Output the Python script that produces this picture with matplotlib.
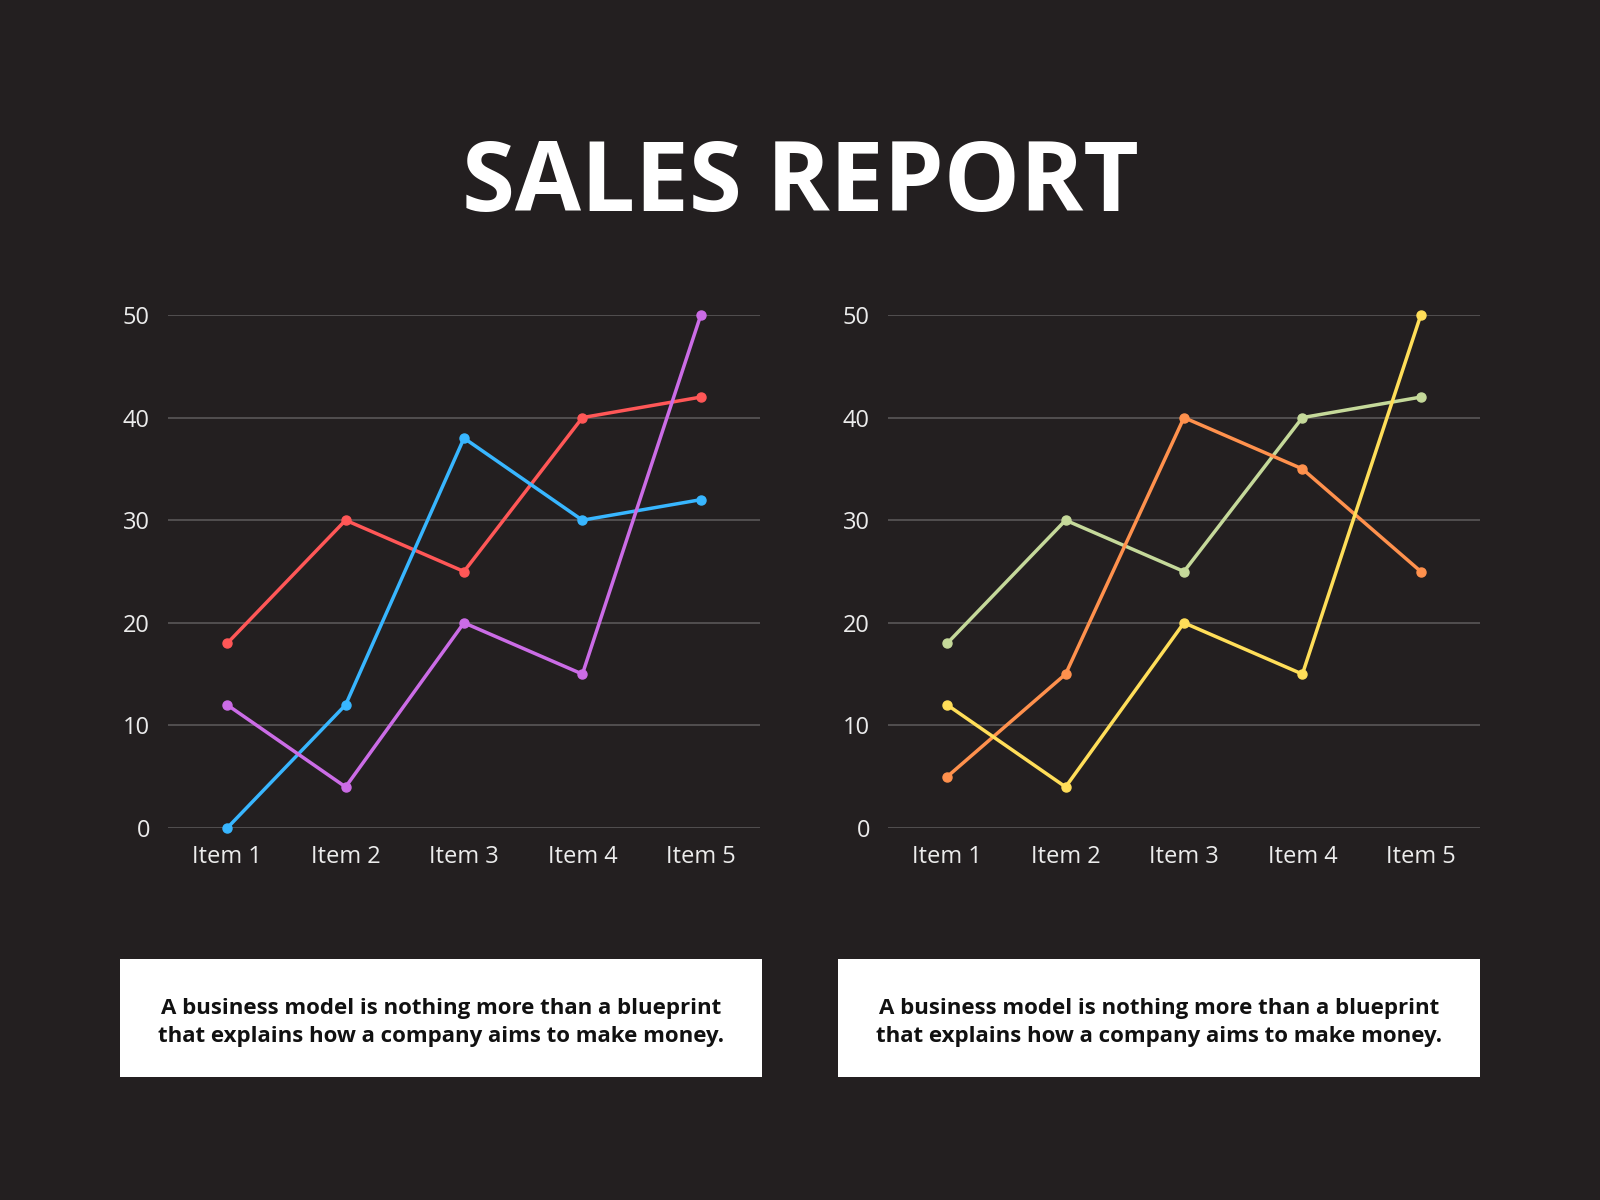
import matplotlib.pyplot as plt
from matplotlib.patches import Rectangle

# chart data
items = ["Item 1", "Item 2", "Item 3", "Item 4", "Item 5"]
y_ticks = [0, 10, 20, 30, 40, 50]

left_red = [18, 30, 25, 40, 42]
left_blue = [0, 12, 38, 30, 32]
left_purple = [12, 4, 20, 15, 50]

right_green = [18, 30, 25, 40, 42]
right_orange = [5, 15, 40, 35, 25]
right_yellow = [12, 4, 20, 15, 50]

caption = ("A business model is nothing more than a blueprint\n"
           "that explains how a company aims to make money.")

BG = "#231f20"
GRID = "#5a5758"
TICK = "#ececec"

plt.rcParams["font.family"] = ["Open Sans", "DejaVu Sans"]

fig = plt.figure(figsize=(16, 12), dpi=100, facecolor=BG)


def draw_panel(rect, series):
    ax = fig.add_axes(rect)
    ax.set_facecolor(BG)
    x = range(len(items))
    for values, color in series:
        ax.plot(x, values, color=color, lw=2.5, marker="o", ms=6.5,
                solid_capstyle="round", clip_on=False, zorder=3)
    ax.set_xlim(-0.5, len(items) - 0.5)
    ax.set_ylim(0, 50)
    ax.set_yticks(y_ticks)
    ax.set_xticks(list(x))
    ax.set_xticklabels(items)
    ax.grid(axis="y", color=GRID, lw=1.2)
    ax.set_axisbelow(True)
    for s in ax.spines.values():
        s.set_visible(False)
    ax.tick_params(length=0, colors=TICK, labelsize=17)
    ax.tick_params(axis="y", pad=13)
    ax.tick_params(axis="x", pad=12)
    return ax


draw_panel([0.105, 0.31, 0.37, 0.4275],
           [(left_red, "#ff5757"), (left_blue, "#38b6ff"), (left_purple, "#cb6ce6")])
draw_panel([0.555, 0.31, 0.37, 0.4275],
           [(right_green, "#c5d99a"), (right_orange, "#ff914d"), (right_yellow, "#ffde59")])

fig.text(0.5, 0.845, "SALES REPORT", ha="center", va="center",
         color="white", fontsize=69, fontweight="bold")

for x0 in (0.075, 0.524):
    fig.patches.append(Rectangle((x0, 0.1025), 0.401, 0.0983,
                                 transform=fig.transFigure, facecolor="white",
                                 edgecolor="none"))
    fig.text(x0 + 0.2005, 0.148, caption, ha="center", va="center",
             color="#111111", fontsize=16.0, fontweight="bold",
             linespacing=1.47)

fig.savefig("out.png", dpi=100, facecolor=BG)
